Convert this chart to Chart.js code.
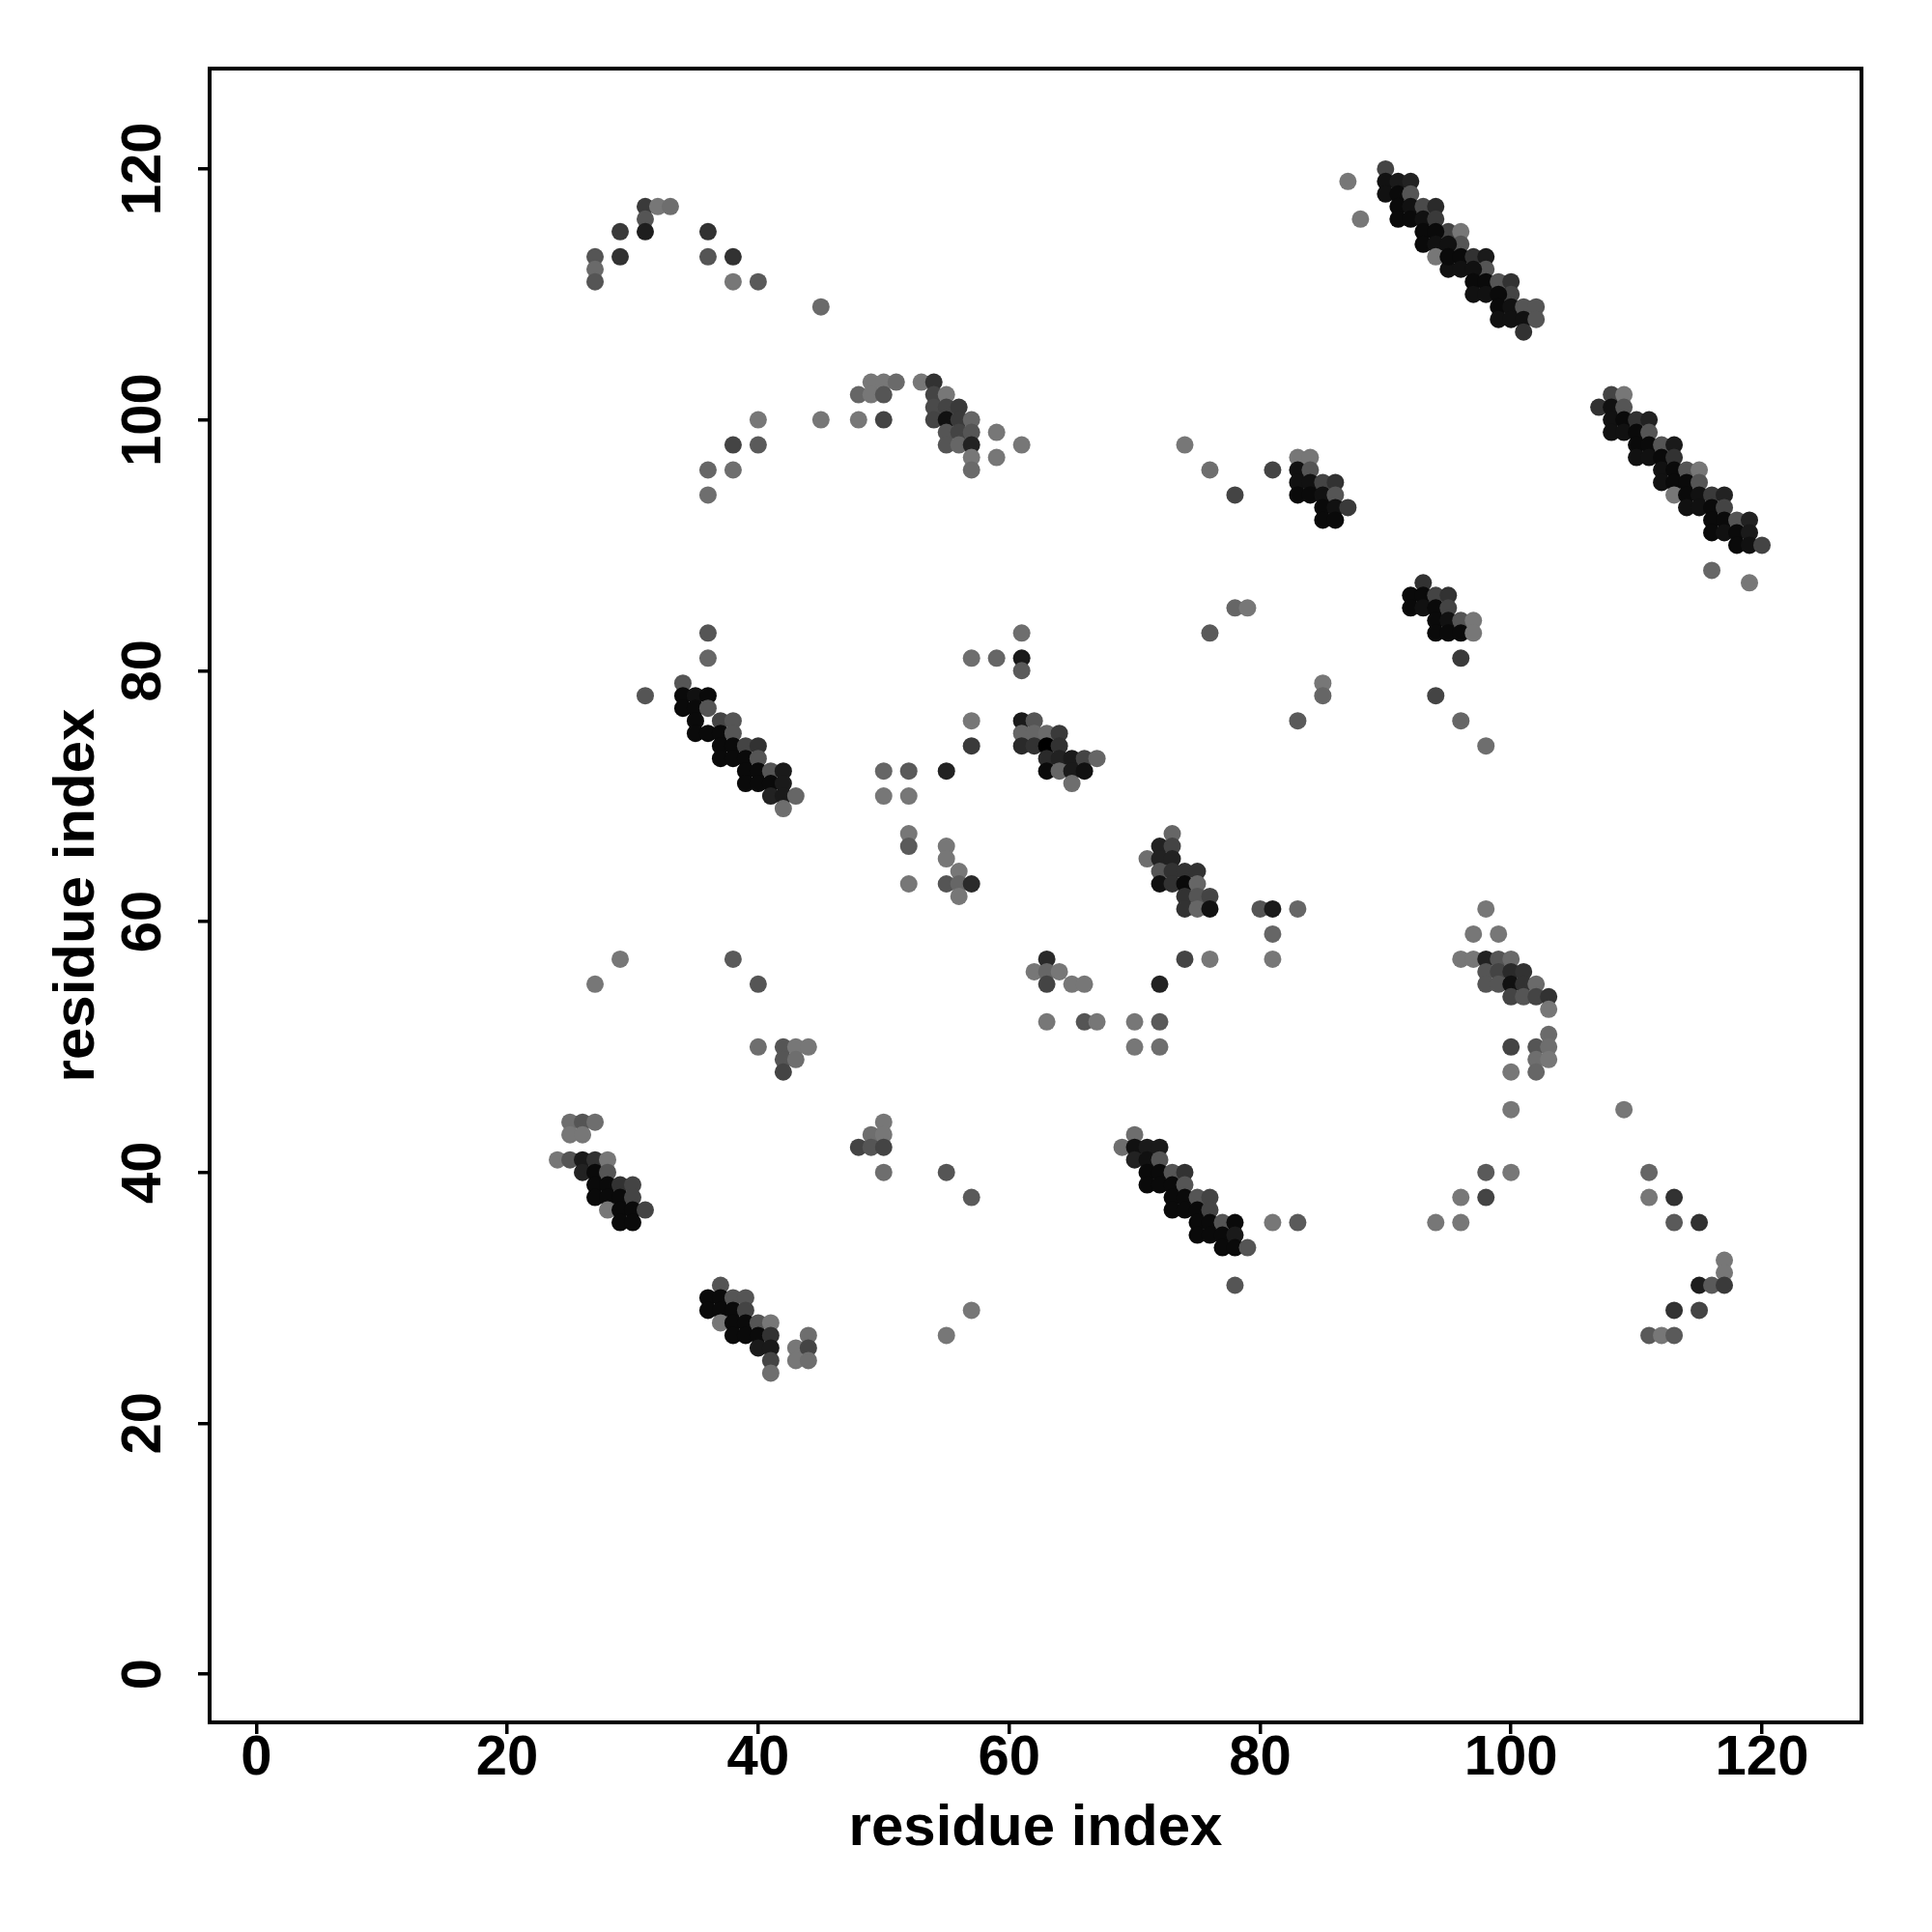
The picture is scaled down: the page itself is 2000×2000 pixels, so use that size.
<!DOCTYPE html>
<html><head><meta charset="utf-8">
<script src="https://cdn.jsdelivr.net/npm/chart.js@4/dist/chart.umd.min.js"></script>
<style>html,body{margin:0;padding:0;background:#fff}canvas{display:block}</style>
</head><body>
<canvas id="c" width="2000" height="2000"></canvas>
<script>
// ---- tick labels and titles ----
const axisTicks = [0, 20, 40, 60, 80, 100, 120];
const xAxisTitle = 'residue index';
const yAxisTitle = 'residue index';

// ---- contacts: [residue i, residue j, probability] ----
const groupA = [[31,117,.52],[32,117,.01],[33,117,.08],[31,116,.29],[31,115,.75],[29,115,.52],[36,115,.58],[27,113,.29],[27,112,.12],[27,111,.29],[29,113,.58],[36,113,.29],[38,113,.58],[38,111,.01],[40,111,.25],[45,109,.12],[40,100,.01],[45,100,.01],[38,98,.43],[40,98,.25],[36,96,.15],[38,96,.08],[36,94,.08]];
const groupB = [[49,103,.01],[50,103,.01],[51,103,.12],[53,103,.01],[54,103,.58],[48,102,.15],[49,102,.01],[50,102,.29],[48,100,.01],[50,100,.43],[54,102,.43],[55,102,.01],[54,101,.38],[55,101,.43],[56,101,.52],[54,100,.43],[55,100,.86],[56,100,.52],[57,100,.15],[55,99,.29],[56,99,.43],[57,99,.29],[55,98,.29],[56,98,.15],[57,98,.72],[57,97,.01],[57,96,.12],[59,99,.01],[59,97,.01],[61,98,.01]];
const groupC = [[90,120,.43],[87,119,.01],[88,116,.01],[90,119,.86],[91,119,.78],[92,119,.72],[90,118,.86],[91,118,.92],[92,118,.29],[91,117,.92],[92,117,.86],[93,117,.38],[94,117,.65],[91,116,.92],[92,116,.92],[93,116,.86],[94,116,.52],[95,115,.43],[93,115,.92],[94,115,.92],[93,114,.92],[94,114,.86],[94,113,.01],[95,112,.86],[96,115,.01],[96,114,.29],[95,114,.86],[95,113,.92],[96,113,.92],[96,112,.86],[97,113,.58],[98,113,.78],[98,112,.29],[97,112,.86],[97,111,.92],[98,111,.92],[99,111,.29],[100,111,.58],[97,110,.86],[98,110,.86],[100,110,.43],[99,110,.92],[99,109,.92],[100,109,.86],[101,109,.29],[102,109,.29],[99,108,.86],[100,108,.86],[101,108,.86],[102,108,.29],[101,107,.58]];
const groupD = [[108,102,.43],[109,102,.01],[107,101,.58],[108,101,.86],[109,101,.29],[108,100,.86],[109,100,.92],[110,100,.58],[111,100,.72],[108,99,.86],[109,99,.86],[110,99,.92],[111,99,.29],[110,98,.92],[111,98,.92],[112,98,.29],[113,98,.78],[110,97,.86],[111,97,.86],[112,97,.92],[113,97,.58],[112,96,.86],[113,96,.92],[114,96,.29],[115,96,.01],[112,95,.86],[113,95,.92],[114,95,.92],[115,95,.29],[113,94,.01],[114,94,.92],[115,94,.86],[116,94,.52],[117,94,.72],[114,93,.86],[115,93,.86],[116,93,.92],[117,93,.43],[116,92,.92],[117,92,.92],[118,92,.29],[119,92,.72],[116,91,.92],[117,91,.86],[118,91,.92],[119,91,.78],[118,90,.92],[119,90,.86],[120,90,.43],[116,88,.15],[119,87,.01]];
const groupE = [[74,98,.01],[76,96,.08],[78,94,.43],[81,96,.43],[83,97,.01],[84,97,.01],[83,96,.86],[84,96,.29],[83,95,.86],[84,95,.86],[85,95,.43],[86,95,.58],[83,94,.92],[84,94,.92],[85,94,.86],[86,94,.29],[85,93,.92],[86,93,.86],[87,93,.52],[85,92,.92],[86,92,.92]];
const groupF = [[36,83,.29],[36,81,.15],[31,78,.29],[34,79,.29],[34,78,.92],[35,78,.86],[36,78,.92],[34,77,.92],[35,77,.92],[36,77,.29],[35,76,.92],[37,76,.43],[38,76,.29],[35,75,.92],[36,75,.92],[37,75,.92],[38,75,.29],[37,74,.92],[38,74,.92],[39,74,.43],[40,74,.58],[37,73,.92],[38,73,.92],[39,73,.92],[40,73,.29],[39,72,.92],[40,72,.92],[41,72,.29],[42,72,.78],[39,71,.92],[40,71,.92],[41,71,.92],[42,71,.78],[41,70,.72],[42,70,.78],[43,70,.15],[42,69,.08]];
const groupG = [[61,83,.08],[57,81,.08],[59,81,.15],[61,81,.78],[61,80,.25],[57,76,.01],[57,74,.52],[61,76,.78],[62,76,.29],[61,75,.15],[62,75,.15],[63,75,.12],[64,75,.52],[61,74,.65],[62,74,.58],[63,74,1.0],[64,74,.58],[63,73,.65],[64,73,.72],[65,73,.78],[66,73,.43],[67,73,.15],[63,72,.92],[64,72,.15],[65,72,.78],[66,72,.86],[65,71,.08],[50,72,.15],[52,72,.25],[55,72,.72],[50,70,.01],[52,70,.01],[52,67,.01],[52,66,.25],[55,66,.01],[55,65,.01],[56,64,.01],[55,63,.29],[56,63,.15],[57,63,.65],[56,62,.01],[52,63,.01]];
const groupH = [[93,87,.58],[92,86,.92],[93,86,.92],[94,86,.43],[95,86,.58],[92,85,.92],[93,85,.86],[94,85,.92],[95,85,.43],[94,84,.92],[95,84,.86],[96,84,.29],[97,84,.01],[94,83,.92],[95,83,.92],[96,83,.92],[97,83,.01],[96,81,.52],[94,78,.43],[96,76,.15],[98,74,.08],[78,85,.15],[79,85,.01],[76,83,.25],[85,79,.01],[85,78,.15],[83,76,.25]];
const groupI = [[73,67,.15],[72,66,.72],[73,66,.43],[71,65,.08],[72,65,.72],[73,65,.72],[72,64,.29],[73,64,.58],[74,64,.58],[75,64,.58],[72,63,.86],[73,63,.58],[74,63,.92],[75,63,.15],[74,62,.58],[75,62,.29],[76,62,.43],[74,61,.58],[75,61,.15],[76,61,.86],[80,61,.29],[81,61,.78],[83,61,.15],[81,59,.15],[74,57,.43],[76,57,.01],[81,57,.01]];
const groupJ = [[98,61,.01],[97,59,.01],[99,59,.01],[96,57,.01],[97,57,.01],[98,57,.72],[99,57,.29],[100,57,.12],[98,56,.29],[99,56,.43],[100,56,.65],[101,56,.58],[98,55,.29],[99,55,.29],[100,55,.86],[101,55,.58],[102,55,.12],[100,54,.43],[101,54,.29],[102,54,.43],[103,54,.58],[103,53,.01],[103,51,.12],[100,50,.43],[102,50,.29],[103,50,.08],[102,49,.08],[103,49,.01],[100,48,.01],[102,48,.15],[100,45,.01],[109,45,.01]];
const groupK = [[98,40,.25],[100,40,.01],[96,38,.01],[98,38,.43],[94,36,.01],[96,36,.01],[111,40,.15],[111,38,.01],[113,38,.58],[113,36,.25],[115,36,.58],[117,33,.01],[117,32,.01],[115,31,.75],[116,31,.25],[117,31,.52],[113,29,.58],[115,29,.43],[111,27,.25],[112,27,.01],[113,27,.25]];
const groupL = [[63,57,.65],[62,56,.01],[63,56,.15],[64,56,.01],[63,55,.43],[65,55,.01],[66,55,.01],[63,52,.01],[66,52,.29],[67,52,.01],[70,52,.01],[70,50,.01],[72,55,.72],[72,52,.25],[72,50,.08],[50,44,.01],[49,43,.08],[50,43,.01],[48,42,.43],[49,42,.29],[50,42,.43],[50,40,.08],[55,40,.29],[57,38,.25],[57,29,.01],[55,27,.01]];
const groupM = [[70,43,.08],[69,42,.08],[70,42,.86],[71,42,.78],[72,42,.78],[70,41,.72],[71,41,.86],[72,41,.29],[71,40,.92],[72,40,.92],[73,40,.29],[74,40,.58],[71,39,.92],[72,39,.92],[73,39,.92],[74,39,.29],[73,38,.92],[74,38,.92],[75,38,.29],[76,38,.43],[73,37,.92],[74,37,.92],[75,37,.92],[76,37,.43],[75,36,.92],[76,36,.92],[77,36,.29],[78,36,.92],[75,35,.92],[76,35,.92],[77,35,.92],[78,35,.78],[77,34,.92],[78,34,.92],[79,34,.29],[78,31,.29],[81,36,.01],[83,36,.25]];
const groupN = [[29,57,.01],[27,55,.01],[38,57,.25],[40,55,.29],[40,50,.08],[42,50,.29],[43,50,.01],[44,50,.01],[42,49,.29],[43,49,.08],[42,48,.43]];
const groupO = [[25,44,.08],[26,44,.29],[27,44,.08],[25,43,.01],[26,43,.01],[24,41,.01],[25,41,.29],[26,41,.78],[27,41,.58],[28,41,.01],[26,40,.72],[27,40,.92],[28,40,.29],[27,39,.92],[28,39,.92],[29,39,.58],[30,39,.43],[27,38,.92],[28,38,.92],[29,38,.92],[30,38,.43],[28,37,.01],[29,37,.92],[30,37,.92],[31,37,.43],[29,36,.92],[30,36,.92]];
const groupP = [[37,31,.29],[36,30,.92],[37,30,.92],[38,30,.29],[39,30,.29],[36,29,.92],[37,29,.92],[38,29,.92],[39,29,.43],[37,28,.01],[38,28,.92],[39,28,.92],[40,28,.29],[41,28,.01],[38,27,.92],[39,27,.92],[40,27,.92],[41,27,.58],[40,26,.78],[41,26,.78],[41,25,.43],[41,24,.08],[43,26,.01],[44,27,.08],[44,26,.43],[43,25,.01],[44,25,.08]];

const contacts = [].concat(groupA, groupB, groupC, groupD, groupE, groupF, groupG, groupH,
  groupI, groupJ, groupK, groupL, groupM, groupN, groupO, groupP);

function grayFor(p) {
  const g = Math.round(120 * (1 - p));
  return 'rgb(' + g + ',' + g + ',' + g + ')';
}

const FONT = '"Liberation Sans", Arial, Helvetica, sans-serif';

const frameAndText = {
  id: 'frameAndText',
  afterDraw(chart) {
    const ctx = chart.ctx;
    const a = chart.chartArea;
    const xs = chart.scales.x, ys = chart.scales.y;
    ctx.save();
    ctx.strokeStyle = '#000';
    ctx.lineWidth = 4;
    ctx.strokeRect(a.left, a.top, a.right - a.left, a.bottom - a.top);
    ctx.fillStyle = '#000';
    ctx.font = 'bold 58px ' + FONT;
    ctx.textAlign = 'center';
    ctx.textBaseline = 'middle';
    axisTicks.forEach(v => {
      ctx.fillText(String(v), xs.getPixelForValue(v), 1821);
    });
    axisTicks.forEach(v => {
      ctx.save();
      ctx.translate(150, ys.getPixelForValue(v));
      ctx.rotate(-Math.PI / 2);
      ctx.fillText(String(v), 0, 0);
      ctx.restore();
    });
    ctx.font = 'bold 60px ' + FONT;
    ctx.fillText(xAxisTitle, (a.left + a.right) / 2, 1893);
    ctx.save();
    ctx.translate(80, (a.top + a.bottom) / 2);
    ctx.rotate(-Math.PI / 2);
    ctx.fillText(yAxisTitle, 0, 0);
    ctx.restore();
    ctx.restore();
  }
};

function axisCommon(min, max) {
  return {
    type: 'linear', min: min, max: max,
    afterBuildTicks(s) { s.ticks = axisTicks.map(v => ({ value: v })); },
    ticks: { display: false },
    grid: { drawOnChartArea: false, drawTicks: true, tickLength: 12, color: '#000', lineWidth: 3.5 },
    border: { display: false }
  };
}

const xOpts = axisCommon(-3.72, 127.93);
xOpts.afterFit = s => { s.height = 217; };
const yOpts = axisCommon(-3.85, 128.0);
yOpts.afterFit = s => { s.width = 217; };

new Chart(document.getElementById('c'), {
  type: 'scatter',
  data: {
    datasets: [{
      data: contacts.map(c => ({ x: c[0], y: c[1] })),
      pointBackgroundColor: contacts.map(c => grayFor(c[2])),
      pointBorderWidth: 0,
      pointBorderColor: 'rgba(0,0,0,0)',
      pointRadius: 9,
      pointHoverRadius: 9
    }]
  },
  options: {
    responsive: false,
    animation: false,
    devicePixelRatio: 1,
    layout: { padding: { top: 71, right: 73, left: 0, bottom: 0 } },
    plugins: { legend: { display: false }, tooltip: { enabled: false } },
    scales: { x: xOpts, y: yOpts }
  },
  plugins: [frameAndText]
});
</script>
</body></html>
